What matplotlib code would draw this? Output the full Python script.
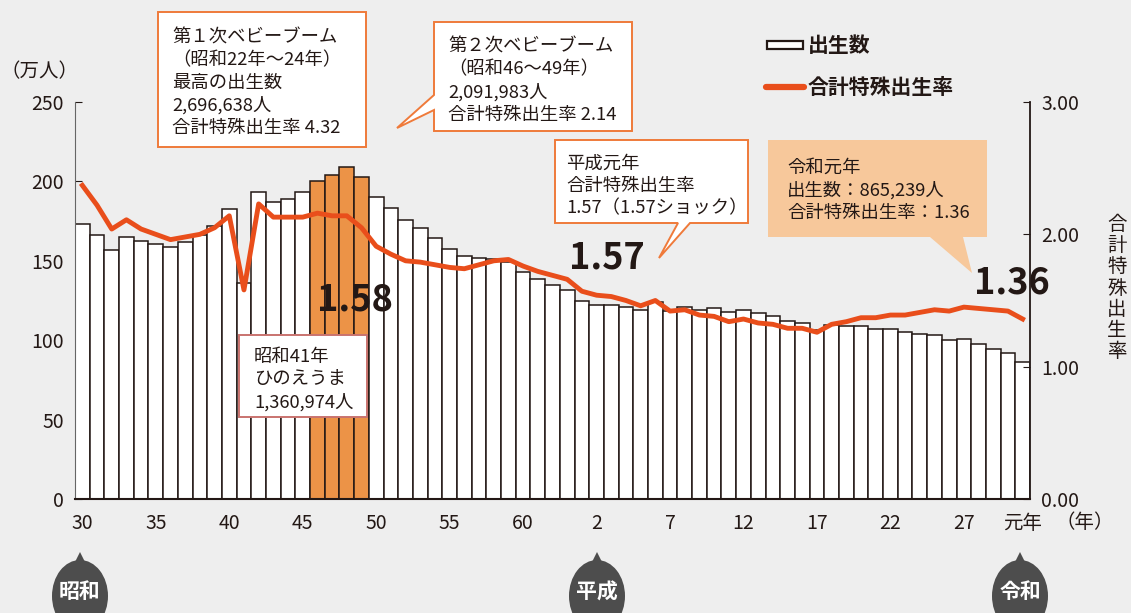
import matplotlib
matplotlib.use("Agg")
import matplotlib.pyplot as plt
from matplotlib.patches import Polygon, Ellipse, Rectangle
from matplotlib.lines import Line2D

plt.rcParams['font.family'] = ['Noto Sans CJK JP', 'DejaVu Sans']

# 昭和30年(1955) 〜 令和元年(2019)
years = list(range(1955, 2020))
births = [173.1, 166.5, 156.7, 165.3, 162.6, 160.6, 158.9, 161.9, 166.0, 171.7,
          182.4, 136.1, 193.6, 187.2, 189.0, 193.4, 200.1, 203.9, 209.2, 203.0,
          190.1, 183.3, 175.5, 170.9, 164.3, 157.7, 152.9, 151.5, 150.9, 149.0,
          143.2, 138.3, 134.7, 131.5, 124.7, 122.2, 122.3, 120.9, 118.8, 123.8,
          118.7, 120.7, 119.2, 120.3, 117.8, 119.1, 117.1, 115.4, 112.4, 111.1,
          106.3, 109.3, 109.0, 109.1, 107.0, 107.1, 105.1, 103.7, 103.0, 100.4,
          100.6, 97.7, 94.6, 91.8, 86.5]
tfr = [2.37, 2.22, 2.04, 2.11, 2.04, 2.00, 1.96, 1.98, 2.00, 2.05,
       2.14, 1.58, 2.23, 2.13, 2.13, 2.13, 2.16, 2.14, 2.14, 2.05,
       1.91, 1.85, 1.80, 1.79, 1.77, 1.75, 1.74, 1.77, 1.80, 1.81,
       1.76, 1.72, 1.69, 1.66, 1.57, 1.54, 1.53, 1.50, 1.46, 1.50,
       1.42, 1.43, 1.39, 1.38, 1.34, 1.36, 1.33, 1.32, 1.29, 1.29,
       1.26, 1.32, 1.34, 1.37, 1.37, 1.39, 1.39, 1.41, 1.43, 1.42,
       1.45, 1.44, 1.43, 1.42, 1.36]
boom2 = [1971, 1972, 1973, 1974]
tick_years = [1955, 1960, 1965, 1970, 1975, 1980, 1985, 1990, 1995, 2000,
              2005, 2010, 2015, 2019]
tick_labels = ['30', '35', '40', '45', '50', '55', '60', '2', '7', '12',
               '17', '22', '27', '元年']

BG = '#eeeeee'
LINE = '#e94e1b'
BOOM = '#ec9347'
EDGE = '#ef7a3a'
DARK = '#231815'

fig = plt.figure(figsize=(11.31, 6.13), dpi=100, facecolor=BG)
ax = fig.add_axes([75 / 1131, 1 - 499 / 613, 955 / 1131, 397 / 613])
ax.set_facecolor('none')

xs = [y - years[0] for y in years]
colors = [BOOM if y in boom2 else 'white' for y in years]
ax.bar(xs, births, width=1.0, color=colors, edgecolor=DARK, linewidth=1.1, zorder=2)
ax.set_xlim(-0.5, len(years) - 0.5)
ax.set_ylim(0, 250)
ax.set_yticks([0, 50, 100, 150, 200, 250])
ax.tick_params(axis='y', direction='in', length=5, labelsize=14, colors=DARK, pad=8)
ax.set_xticks([y - years[0] for y in tick_years])
ax.set_xticklabels(tick_labels)
ax.tick_params(axis='x', length=0, labelsize=14, colors=DARK, pad=10)
for s in ['top', 'right']:
    ax.spines[s].set_visible(False)
ax.spines['left'].set_color('#666666')
ax.spines['bottom'].set_color(DARK)
ax.spines['bottom'].set_linewidth(1.5)

ax2 = ax.twinx()
ax2.plot(xs, tfr, color=LINE, linewidth=3.5, solid_joinstyle='round', zorder=3)
ax2.set_ylim(0, 3)
ax2.set_yticks([0, 1, 2, 3])
ax2.set_yticklabels(['0.00', '1.00', '2.00', '3.00'])
ax2.tick_params(axis='y', direction='in', length=5, labelsize=14, colors=DARK, pad=8)
for s in ['top', 'left', 'bottom']:
    ax2.spines[s].set_visible(False)
ax2.spines['right'].set_color(DARK)
ax2.spines['right'].set_linewidth(1.3)

# overlay in pixel coordinates for notes
ov = fig.add_axes([0, 0, 1, 1], zorder=10)
ov.set_xlim(0, 1131)
ov.set_ylim(613, 0)
ov.axis('off')
ov.patch.set_alpha(0)

ov.text(40, 72, '（万人）', ha='center', va='center', fontsize=14, color=DARK)
ov.text(1085, 523, '（年）', ha='center', va='center', fontsize=14, color=DARK)
ov.text(1117, 288, '\n'.join('合計特殊出生率'), ha='center', va='center',
        fontsize=14, color=DARK, linespacing=1.02)

# legend
ov.add_patch(Rectangle((767, 41), 36, 8, facecolor='white', edgecolor=DARK, lw=1.6))
ov.text(808, 45, '出生数', ha='left', va='center', fontsize=15, color=DARK, fontweight='bold')
ov.add_line(Line2D([766, 804], [87, 87], color=LINE, lw=4.5, solid_capstyle='round'))
ov.text(808, 87, '合計特殊出生率', ha='left', va='center', fontsize=15, color=DARK,
        fontweight='bold')


def note(poly, lines, tx, ty, face='white', edge=EDGE, lw=1.4):
    ov.add_patch(Polygon(poly, closed=True, facecolor=face, edgecolor=edge, lw=lw))
    ov.text(tx, ty, '\n'.join(lines), ha='left', va='top', fontsize=13.2, color=DARK,
            linespacing=1.31)


note([(158, 12), (366, 12), (366, 147), (158, 147)],
     ['第１次ベビーブーム', '（昭和22年〜24年）', '最高の出生数', '2,696,638人', '合計特殊出生率 4.32'],
     172, 29)
note([(434, 22), (632, 22), (632, 131), (434, 131), (434, 110), (397, 128), (434, 95)],
     ['第２次ベビーブーム', '（昭和46〜49年）', '2,091,983人', '合計特殊出生率 2.14'],
     448, 38)
note([(555, 140), (748, 140), (748, 223), (690, 223), (659, 258), (678, 223), (555, 223)],
     ['平成元年', '合計特殊出生率', '1.57（1.57ショック）'],
     566, 155)
note([(768, 140), (987, 140), (987, 237), (963, 237), (972, 273), (930, 237), (768, 237)],
     ['令和元年', '出生数：865,239人', '合計特殊出生率：1.36'],
     787, 159, face='#f7c89b', edge='none', lw=0)
note([(239, 335), (367, 335), (367, 417), (239, 417)],
     ['昭和41年', 'ひのえうま', '1,360,974人'],
     254, 348, edge='#c9736f')

for tx, ty, s in [(355, 300, '1.58'), (607, 258, '1.57'), (1012, 283, '1.36')]:
    ov.text(tx, ty, s, ha='center', va='center', fontsize=26, fontweight='bold',
            color=DARK)

# era markers
for ex, era in [(80, '昭和'), (597, '平成'), (1020, '令和')]:
    ov.add_patch(Polygon([(ex - 7, 566), (ex, 552), (ex + 7, 566)], closed=True,
                         facecolor='#4d4d4d', edgecolor='none'))
    ov.add_patch(Ellipse((ex, 596), 56, 72, facecolor='#4d4d4d', edgecolor='none'))
    ov.text(ex, 592, era, ha='center', va='center', fontsize=15, fontweight='bold',
            color='white')

fig.savefig('out.png', dpi=100, facecolor=BG)
